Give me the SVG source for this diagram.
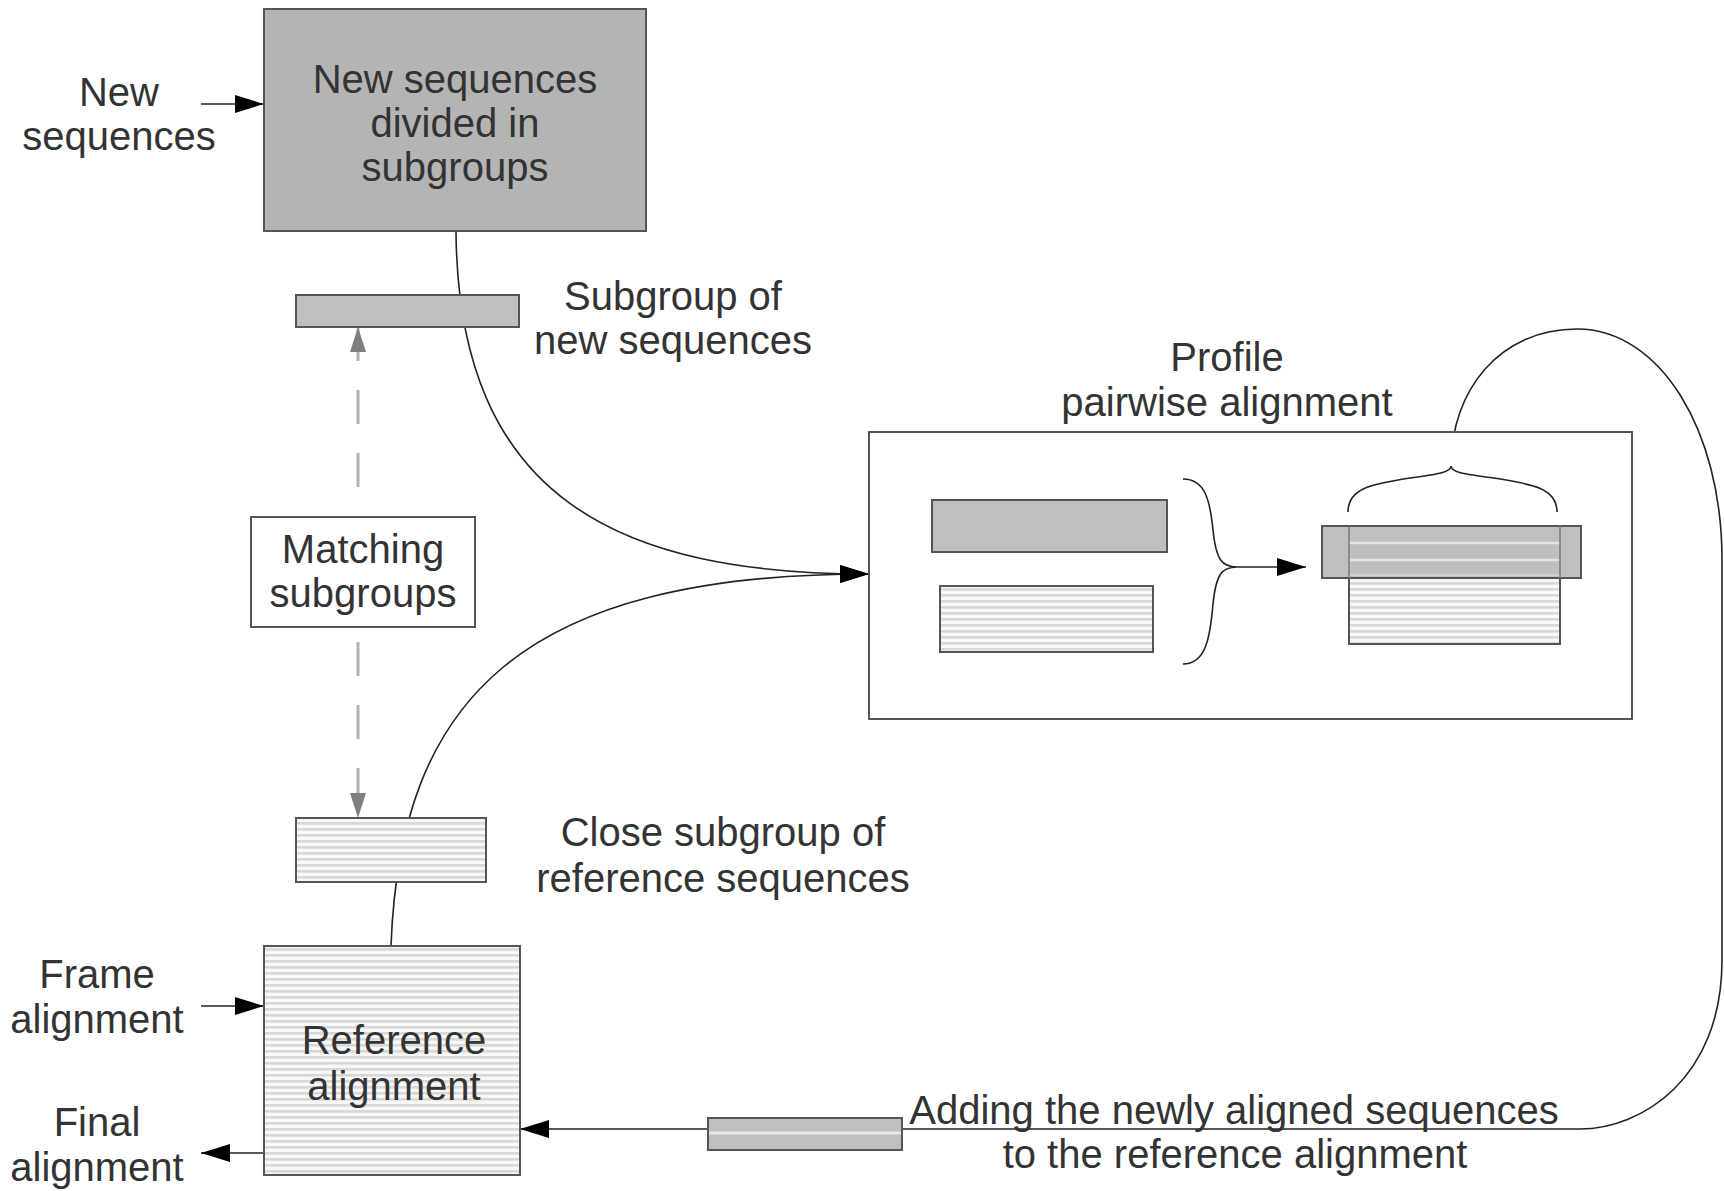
<svg xmlns="http://www.w3.org/2000/svg" width="1724" height="1191" viewBox="0 0 1724 1191">
<style>
text{font-family:"Liberation Sans",Arial,sans-serif;font-size:40px;fill:#333;text-anchor:middle}
.box{stroke:#555;stroke-width:2}
.dark{fill:#b4b4b4}
.gray{fill:#bfbfbf}
.wire{fill:none;stroke:#222;stroke-width:1.6}
.dash{fill:none;stroke:#b3b3b3;stroke-width:3;stroke-dasharray:34 29}
</style>
<defs>
<pattern id="stripes" width="8" height="6" patternUnits="userSpaceOnUse">
<rect width="8" height="6" fill="#f8f8f8"/>
<rect y="0" width="8" height="2.6" fill="#d8d8d8"/>
</pattern>
<marker id="ah" markerUnits="userSpaceOnUse" markerWidth="30" markerHeight="20" refX="29" refY="9" orient="auto">
<path d="M0,0 L29,9 L0,18 z" fill="#000"/>
</marker>
<marker id="ahg" markerUnits="userSpaceOnUse" markerWidth="26" markerHeight="18" refX="25" refY="8" orient="auto-start-reverse">
<path d="M0,0 L25,8 L0,16 z" fill="#7f7f7f"/>
</marker>
</defs>
<g id="connectors">
<path class="wire" d="M456 231 C458 500, 620 574, 869 574" marker-end="url(#ah)"/>
<path class="wire" d="M391 946 C400 700, 520 574, 869 574" marker-end="url(#ah)"/>
<line class="dash" x1="358" y1="327" x2="358" y2="818" marker-start="url(#ahg)" marker-end="url(#ahg)"/>
<path class="wire" d="M201 104 L264 104" marker-end="url(#ah)"/>
<path class="wire" d="M201 1006 L264 1006" marker-end="url(#ah)"/>
<path class="wire" d="M264 1153 L201 1153" marker-end="url(#ah)"/>
<path class="wire" d="M1451 466 C1451 390, 1500 329, 1577 329 C1660 329, 1722 430, 1722 560 L1722 960 C1722 1080, 1640 1129, 1580 1129 L520 1129" marker-end="url(#ah)"/>
</g>
<g id="new-sequences-box">
<rect class="box dark" x="264" y="9" width="382" height="222"/>
<text x="455" y="93">New sequences</text>
<text x="455" y="137">divided in</text>
<text x="455" y="181">subgroups</text>
</g>
<g id="new-sequences-label">
<text x="119" y="106">New</text>
<text x="119" y="150">sequences</text>
</g>
<g id="subgroup-new">
<rect class="box gray" x="296" y="295" width="223" height="32"/>
<text x="673" y="310">Subgroup of</text>
<text x="673" y="354">new sequences</text>
</g>
<g id="matching">
<rect class="box" fill="#fff" x="251" y="517" width="224" height="110"/>
<text x="363" y="563">Matching</text>
<text x="363" y="607">subgroups</text>
</g>
<g id="close-subgroup">
<rect class="box" fill="url(#stripes)" x="296" y="818" width="190" height="64"/>
<text x="723" y="846">Close subgroup of</text>
<text x="723" y="892">reference sequences</text>
</g>
<g id="reference-alignment">
<rect class="box" fill="url(#stripes)" x="264" y="946" width="256" height="229"/>
<text x="394" y="1054">Reference</text>
<text x="394" y="1100">alignment</text>
</g>
<g id="frame-label">
<text x="97" y="988">Frame</text>
<text x="97" y="1033">alignment</text>
</g>
<g id="final-label">
<text x="97" y="1136">Final</text>
<text x="97" y="1181">alignment</text>
</g>
<g id="profile">
<text x="1227" y="371">Profile</text>
<text x="1227" y="416">pairwise alignment</text>
<rect class="box" fill="#fff" x="869" y="432" width="763" height="287"/>
<rect class="box gray" x="932" y="500" width="235" height="52"/>
<rect class="box" fill="url(#stripes)" x="940" y="586" width="213" height="66"/>
<path class="wire" d="M1183 479 C1205 479, 1210 500, 1213 530 C1216 560, 1222 567, 1237 567 C1222 567, 1216 574, 1213 604 C1210 640, 1205 664, 1183 664"/>
<path class="wire" d="M1237 567 L1306 567" marker-end="url(#ah)"/>
<rect class="box" fill="url(#stripes)" x="1349" y="526" width="211" height="118"/>
<rect class="box gray" x="1322" y="526" width="259" height="52"/>
<line x1="1349" y1="543" x2="1560" y2="543" stroke="#e4e4e4" stroke-width="2.5"/>
<line x1="1349" y1="560" x2="1560" y2="560" stroke="#e4e4e4" stroke-width="2.5"/>
<line x1="1349" y1="575" x2="1560" y2="575" stroke="#d8d8d8" stroke-width="1.5"/>
<line x1="1349" y1="526" x2="1349" y2="578" stroke="#777" stroke-width="1.5"/>
<line x1="1560" y1="526" x2="1560" y2="578" stroke="#777" stroke-width="1.5"/>
<path class="wire" d="M1348 512 C1348 488, 1372 484, 1410 478 C1440 474, 1451 472, 1451 466 C1451 472, 1462 474, 1494 478 C1532 484, 1557 488, 1557 512"/>
</g>
<g id="adding">
<rect class="box gray" x="708" y="1118" width="194" height="32"/>
<line x1="709" y1="1133" x2="901" y2="1133" stroke="#e8e8e8" stroke-width="3"/>
<text x="1234" y="1124">Adding the newly aligned sequences</text>
<text x="1235" y="1168">to the reference alignment</text>
</g>
</svg>
